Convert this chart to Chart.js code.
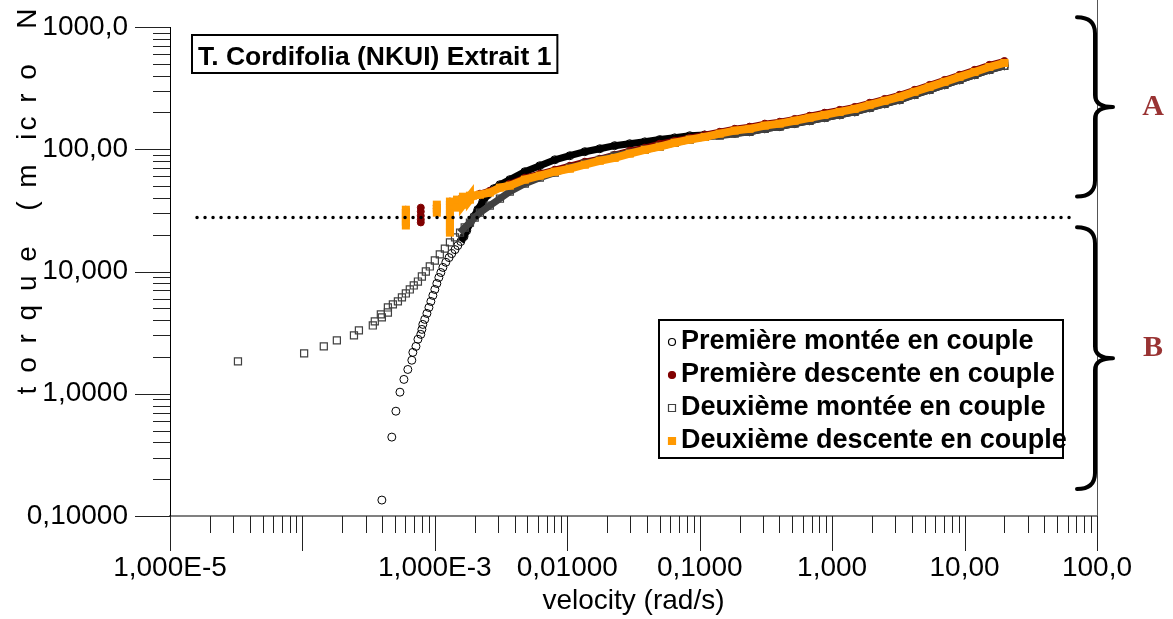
<!DOCTYPE html>
<html>
<head>
<meta charset="utf-8">
<script src="https://cdn.jsdelivr.net/npm/chart.js@4.4.1/dist/chart.umd.min.js"></script>
<style>
  html, body { margin: 0; padding: 0; background: #fff; }
  #wrap { width: 1173px; height: 619px; }
</style>
</head>
<body>
<div id="wrap"><canvas id="torque_chart"></canvas></div>
<script>
// axis ticks (comma decimals as in the original)
const xTickValues = [1e-5, 1e-4, 1e-3, 0.01, 0.1, 1, 10, 100];
const xTickLabels = ['1,000E-5', '', '1,000E-3', '0,01000', '0,1000', '1,000', '10,00', '100,0'];
const yTickValues = [0.1, 1, 10, 100, 1000];
const yTickLabels = ['0,10000', '1,0000', '10,000', '100,00', '1000,0'];

const chartTitle = 'T. Cordifolia (NKUI) Extrait 1';
const xTitle = 'velocity (rad/s)';
const yTitle = 't o r q u e   ( m  ic r o   N';

const seriesNames = [
  'Première montée en couple',
  'Première descente en couple',
  'Deuxième montée en couple',
  'Deuxième descente en couple'
];

// Première montée en couple
const montee1Velocity = [3.98e-4, 4.73e-4, 5.08e-4, 5.45e-4, 5.84e-4, 6.25e-4, 6.70e-4, 6.82e-4, 7.20e-4, 7.45e-4,
  7.83e-4, 7.98e-4, 8.11e-4, 8.39e-4, 8.71e-4, 9.02e-4, 9.33e-4, 9.66e-4, 1.00e-3, 1.035e-3,
  1.072e-3, 1.11e-3, 1.15e-3, 1.21e-3, 1.28e-3, 1.34e-3, 1.42e-3, 1.49e-3, 1.57e-3, 1.66e-3,
  1.74e-3, 1.84e-3, 1.97e-3, 2.11e-3, 2.30e-3, 2.51e-3, 2.79e-3, 3.10e-3, 3.68e-3, 4.78e-3,
  6.2e-3, 8.05e-3, 0.01045, 0.01356, 0.0176, 0.0228, 0.0296, 0.0385, 0.0499, 0.0647,
  0.0841, 0.109, 0.1416, 0.1837, 0.238, 0.310, 0.402, 0.521, 0.676, 0.877,
  1.14, 1.48, 1.92, 2.49, 3.23, 4.19, 5.44, 7.06, 9.16, 11.9, 15.4, 20.0];
const montee1Torque = [0.135, 0.442, 0.72, 1.03, 1.31, 1.58, 1.88, 2.18, 2.44, 2.79,
  3.06, 3.36, 3.69, 4.06, 4.54, 5.08, 5.69, 6.37, 7.13, 7.98,
  8.93, 9.81, 10.8, 11.9, 13.0, 14.0, 15.1, 16.3, 17.6, 19.3,
  21.6, 24.7, 28.1, 32.1, 37.3, 42.5, 47.6, 51.3, 56.4, 65.5,
  73.3, 82, 88.5, 95.5, 101, 107, 111, 115, 120, 124,
  129, 131, 133, 135, 139, 147, 153, 162, 171, 181,
  191, 202, 218, 235, 253, 279, 306, 336, 369, 406, 446, 481];

// Première descente en couple
const descente1Velocity = [6.04e-4, 6.04e-4, 7.83e-4, 7.83e-4, 7.83e-4, 7.83e-4, 7.83e-4, 1.035e-3, 1.035e-3, 1.30e-3,
  1.30e-3, 1.6e-3, 1.94e-3, 2.19e-3, 2.6e-3, 3.1e-3, 3.68e-3, 4.78e-3, 6.2e-3, 8.05e-3,
  0.01045, 0.01356, 0.0176, 0.0228, 0.0296, 0.0385, 0.0499, 0.0647, 0.0841, 0.109,
  0.1416, 0.1837, 0.238, 0.310, 0.402, 0.521, 0.676, 0.877, 1.14, 1.48,
  1.92, 2.49, 3.23, 4.19, 5.44, 7.06, 9.16, 11.9, 15.4, 20.0];
const descente1Torque = [32.0, 24.0, 33.3, 30.9, 28.6, 26.6, 25.2, 34.6, 32.7, 37.3,
  35.2, 40.2, 41.7, 43.3, 45.8, 48.5, 52.3, 58.5, 63.1, 68.1,
  73.3, 79.1, 83.6, 90.2, 97.2, 102.9, 110.9, 117.3, 124.1, 131.3,
  139, 147, 153, 162, 168, 177, 188, 199, 210, 222,
  240, 258, 279, 306, 336, 369, 406, 446, 490, 527];

// Deuxième montée en couple
const montee2Velocity = [3.26e-5, 1.03e-4, 1.45e-4, 1.82e-4, 2.45e-4, 2.67e-4, 3.40e-4, 3.52e-4, 3.91e-4, 3.98e-4,
  4.42e-4, 4.42e-4, 4.82e-4, 5.26e-4, 5.64e-4, 6.04e-4, 6.47e-4, 6.93e-4, 7.45e-4, 7.98e-4,
  8.55e-4, 9.16e-4, 1.0e-3, 1.09e-3, 1.19e-3, 1.30e-3, 1.42e-3, 1.55e-3, 1.68e-3, 1.84e-3,
  2.0e-3, 2.19e-3, 2.6e-3, 3.1e-3, 3.68e-3, 4.78e-3, 6.2e-3, 8.05e-3, 0.01045, 0.01356,
  0.0176, 0.0228, 0.0296, 0.0385, 0.0499, 0.0647, 0.0841, 0.109, 0.1416, 0.1837,
  0.238, 0.310, 0.402, 0.521, 0.676, 0.877, 1.14, 1.48, 1.92, 2.49,
  3.23, 4.19, 5.44, 7.06, 9.16, 11.9, 15.4, 20.0];
const montee2Torque = [1.84, 2.14, 2.44, 2.73, 3.0, 3.3, 3.62, 3.91, 4.46, 4.21,
  4.62, 5.08, 5.38, 5.69, 6.14, 6.61, 7.13, 7.69, 8.28, 9.1,
  10.0, 11.0, 12.3, 13.8, 15.4, 17.3, 19.0, 20.8, 22.9, 25.1,
  27.6, 30.3, 34.6, 39.4, 45, 52.3, 58.5, 64.3, 70.6, 76.2,
  82, 88.5, 93.6, 99.1, 105, 113, 120, 126, 129, 134,
  139, 147, 153, 162, 171, 181, 191, 202, 218, 235,
  253, 279, 306, 336, 369, 406, 446, 481];

// Deuxième descente en couple
const descente2Velocity = [6.04e-4, 6.04e-4, 6.04e-4, 6.04e-4, 6.04e-4, 1.035e-3, 1.035e-3, 1.035e-3, 1.30e-3, 1.30e-3,
  1.30e-3, 1.30e-3, 1.30e-3, 1.30e-3, 1.30e-3, 1.30e-3, 1.30e-3, 1.47e-3, 1.47e-3, 1.47e-3,
  1.63e-3, 1.63e-3, 1.63e-3, 1.84e-3, 1.84e-3, 1.94e-3, 2.19e-3, 2.6e-3, 3.1e-3, 3.68e-3,
  4.78e-3, 6.2e-3, 8.05e-3, 0.01045, 0.01356, 0.0176, 0.0228, 0.0296, 0.0385, 0.0499,
  0.0647, 0.0841, 0.109, 0.1416, 0.1837, 0.238, 0.310, 0.402, 0.521, 0.676,
  0.877, 1.14, 1.48, 1.92, 2.49, 3.23, 4.19, 5.44, 7.06, 9.16,
  11.9, 15.4, 20.0];
const descente2Torque = [32.0, 29.7, 27.6, 25.6, 23.8, 35.2, 32.7, 30.3, 37.3, 34.6,
  32.0, 29.7, 27.6, 25.6, 23.8, 22.0, 20.8, 38.7, 35.9, 33.3,
  40.9, 38.0, 35.2, 41.7, 38.7, 41.7, 42.5, 44.2, 48.5, 50.4,
  56.4, 60.8, 65.5, 69.3, 74.7, 80.5, 85, 92, 99, 105,
  113, 120, 126, 134, 142, 147, 156, 162, 171, 181,
  191, 202, 214, 231, 249, 268, 295, 324, 356, 391,
  429, 471, 508];

// dotted threshold line
const thresholdVelocity = [1.6e-5, 62];
const thresholdTorque = [27.6, 27.6];

// braces on the right: torque range covered by each
const braceLabels = ['A', 'B'];
const braceTop = [1200, 23];
const braceBottom = [41, 0.166];

// the dense part of each curve is drawn as a band
const bandStart = 1.5e-3;

function points(xs, ys) {
  return xs.map((v, i) => ({ x: v, y: ys[i] }));
}

function bandSegment(ctx) {
  const a = ctx.p0, b = ctx.p1;
  if (a.parsed.x < bandStart) return 'transparent';
  if (Math.hypot(b.x - a.x, b.y - a.y) > 18) return 'transparent';
  return undefined;
}

function isDecade(v) {
  const l = Math.log10(v);
  return Math.abs(l - Math.round(l)) < 1e-6;
}

function labelFor(value, values, labels) {
  const i = values.findIndex(v => Math.abs(Math.log10(v) - Math.log10(value)) < 1e-6);
  return i >= 0 ? labels[i] : '';
}

function logTicks(fromExp, toExp) {
  let ticks = [];
  for (let e = fromExp; e < toExp; e++) {
    for (let k = 1; k < 10; k++) ticks.push({ value: k * Math.pow(10, e) });
  }
  ticks.push({ value: Math.pow(10, toExp) });
  return ticks;
}

Chart.defaults.font.family = "'Liberation Sans', Arial, sans-serif";
Chart.defaults.color = '#000';

const tickMarks = {
  id: 'tickMarks',
  afterDraw(chart) {
    const ctx = chart.ctx;
    const area = chart.chartArea;
    const xs = chart.scales.x, ys = chart.scales.y;
    ctx.save();
    ctx.lineWidth = 1;
    ctx.strokeStyle = '#222';
    xs.ticks.forEach(t => {
      const px = Math.round(xs.getPixelForValue(t.value)) + 0.5;
      const len = isDecade(t.value) ? 35 : 17;
      ctx.beginPath();
      ctx.moveTo(px, area.bottom);
      ctx.lineTo(px, area.bottom + len);
      ctx.stroke();
    });
    ys.ticks.forEach(t => {
      const py = Math.round(ys.getPixelForValue(t.value)) + 0.5;
      const len = isDecade(t.value) ? 35 : 17;
      ctx.beginPath();
      ctx.moveTo(area.left, py);
      ctx.lineTo(area.left - len, py);
      ctx.stroke();
    });
    // thin frame line on the right
    ctx.strokeStyle = '#555';
    ctx.beginPath();
    ctx.moveTo(Math.round(area.right) + 0.5, 0);
    ctx.lineTo(Math.round(area.right) + 0.5, area.bottom);
    ctx.stroke();
    ctx.restore();
  }
};

const annotations = {
  id: 'annotations',
  afterDraw(chart) {
    const ctx = chart.ctx;
    const area = chart.chartArea;
    const ys = chart.scales.y;
    ctx.save();

    // y axis title, rotated and letter spaced
    ctx.save();
    ctx.translate(36, 200);
    ctx.rotate(-Math.PI / 2);
    ctx.font = "28px 'Liberation Sans', Arial, sans-serif";
    ctx.letterSpacing = '3px';
    ctx.fillStyle = '#000';
    ctx.textAlign = 'center';
    ctx.textBaseline = 'alphabetic';
    ctx.fillText(yTitle, 0, 0);
    ctx.restore();

    // title box
    ctx.font = "bold 26.5px 'Liberation Sans', Arial, sans-serif";
    const tw = ctx.measureText(chartTitle).width;
    const bx = area.left + 22, by = 35;
    ctx.fillStyle = '#fff';
    ctx.fillRect(bx, by, tw + 12, 38);
    ctx.lineWidth = 2;
    ctx.strokeStyle = '#000';
    ctx.strokeRect(bx, by, tw + 12, 38);
    ctx.fillStyle = '#000';
    ctx.textBaseline = 'alphabetic';
    ctx.textAlign = 'left';
    ctx.fillText(chartTitle, bx + 6, by + 30);

    // legend box
    const lx = area.right - 438, ly = area.bottom - 196;
    ctx.fillStyle = '#fff';
    ctx.fillRect(lx, ly, 404, 138);
    ctx.lineWidth = 2;
    ctx.strokeRect(lx, ly, 404, 138);
    ctx.font = "bold 27px 'Liberation Sans', Arial, sans-serif";
    chart.data.datasets.slice(0, 4).forEach((ds, i) => {
      const base = ly + 29 + i * 33;
      const mx = lx + 13, my = base - 7;
      ctx.lineWidth = 1.2;
      ctx.strokeStyle = ds.pointBorderColor;
      ctx.fillStyle = ds.pointBackgroundColor;
      ctx.beginPath();
      if (ds.pointStyle === 'circle') {
        ctx.arc(mx, my, 3.5, 0, Math.PI * 2);
      } else {
        ctx.rect(mx - 3.5, my - 3.5, 7, 7);
      }
      ctx.fill();
      ctx.stroke();
      ctx.fillStyle = '#000';
      ctx.fillText(ds.label, lx + 22, base);
    });

    // braces with labels
    ctx.strokeStyle = '#000';
    ctx.lineWidth = 4;
    ctx.lineCap = 'round';
    ctx.lineJoin = 'round';
    braceLabels.forEach((lab, i) => {
      const t = ys.getPixelForValue(braceTop[i]);
      const b = ys.getPixelForValue(braceBottom[i]);
      const m = (t + b) / 2;
      const xl = area.right - 20, xm = area.right - 2, xt = area.right + 16;
      ctx.beginPath();
      ctx.moveTo(xl, t);
      ctx.quadraticCurveTo(xm, t, xm, t + 16);
      ctx.lineTo(xm, m - 12);
      ctx.quadraticCurveTo(xm, m, xt, m);
      ctx.quadraticCurveTo(xm, m, xm, m + 12);
      ctx.lineTo(xm, b - 16);
      ctx.quadraticCurveTo(xm, b, xl, b);
      ctx.stroke();
      ctx.fillStyle = '#993333';
      ctx.font = "bold 30px 'Liberation Serif', 'Times New Roman', serif";
      ctx.textAlign = 'center';
      ctx.textBaseline = 'middle';
      ctx.fillText(lab, area.right + 56, m - (i === 0 ? 0 : 10));
    });
    ctx.restore();
  }
};

new Chart(document.getElementById('torque_chart'), {
  type: 'scatter',
  data: {
    datasets: [{
      label: seriesNames[0],
      data: points(montee1Velocity, montee1Torque),
      pointStyle: 'circle',
      pointRadius: 4,
      pointBorderWidth: 1,
      pointBorderColor: '#000',
      pointBackgroundColor: 'rgba(0,0,0,0)',
      borderColor: '#000',
      borderWidth: 7,
      showLine: true,
      segment: { borderColor: bandSegment },
      order: 3
    },
    {
      label: seriesNames[1],
      data: points(descente1Velocity, descente1Torque),
      pointStyle: 'circle',
      pointRadius: 3.5,
      pointBorderWidth: 1,
      pointBorderColor: '#800000',
      pointBackgroundColor: '#800000',
      borderColor: '#800000',
      borderWidth: 6,
      showLine: true,
      segment: { borderColor: bandSegment },
      order: 2
    },
    {
      label: seriesNames[2],
      data: points(montee2Velocity, montee2Torque),
      pointStyle: 'rect',
      pointRadius: 5,
      pointBorderWidth: 1.2,
      pointBorderColor: '#404040',
      pointBackgroundColor: 'rgba(0,0,0,0)',
      borderColor: '#404040',
      borderWidth: 7,
      showLine: true,
      segment: { borderColor: bandSegment },
      order: 1
    },
    {
      label: seriesNames[3],
      data: points(descente2Velocity, descente2Torque),
      pointStyle: 'rect',
      pointRadius: 5.7,
      pointBorderWidth: 0,
      pointBorderColor: '#ff9900',
      pointBackgroundColor: '#ff9900',
      borderColor: '#ff9900',
      borderWidth: 8,
      showLine: true,
      segment: { borderColor: bandSegment },
      order: 0
    },
    {
      label: 'seuil',
      data: points(thresholdVelocity, thresholdTorque),
      pointRadius: 0,
      borderColor: '#000',
      borderWidth: 3.5,
      borderDash: [0, 8],
      borderCapStyle: 'round',
      showLine: true,
      order: -1
    }]
  },
  options: {
    responsive: true,
    maintainAspectRatio: false,
    animation: false,
    events: [],
    layout: { padding: { top: 27, right: 76, bottom: 0, left: 0 } },
    plugins: {
      legend: { display: false },
      tooltip: { enabled: false }
    },
    elements: { line: { tension: 0 } },
    scales: {
      x: {
        type: 'logarithmic',
        min: 1e-5,
        max: 100,
        afterBuildTicks: scale => { scale.ticks = logTicks(-5, 2); },
        afterFit: scale => { scale.height = 103; },
        grid: { display: true, drawOnChartArea: false, drawTicks: true, tickLength: 35, color: 'rgba(0,0,0,0)' },
        border: { display: true, color: '#808080', width: 2 },
        ticks: {
          autoSkip: false,
          maxRotation: 0,
          minRotation: 0,
          padding: 0,
          font: { size: 28 },
          callback: value => labelFor(value, xTickValues, xTickLabels)
        },
        title: {
          display: true,
          text: xTitle,
          font: { size: 28, lineHeight: 1.2 },
          padding: { top: 0, bottom: 1 }
        }
      },
      y: {
        type: 'logarithmic',
        min: 0.1,
        max: 1000,
        afterBuildTicks: scale => { scale.ticks = logTicks(-1, 3); },
        afterFit: scale => { scale.width = 170; },
        grid: { display: true, drawOnChartArea: false, drawTicks: true, tickLength: 35, color: 'rgba(0,0,0,0)' },
        border: { display: true, color: '#000', width: 1 },
        ticks: {
          autoSkip: false,
          padding: 7,
          font: { size: 28 },
          callback: value => labelFor(value, yTickValues, yTickLabels)
        }
      }
    }
  },
  plugins: [tickMarks, annotations]
});
</script>
</body>
</html>
